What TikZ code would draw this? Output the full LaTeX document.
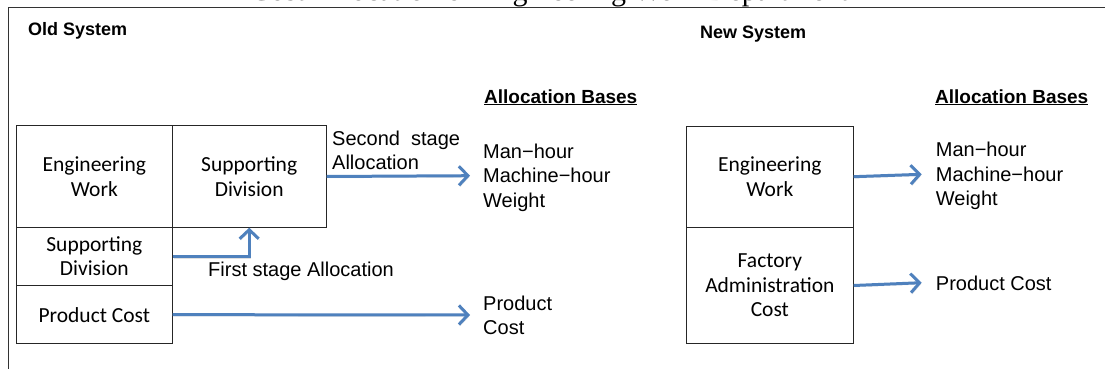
\documentclass[tikz,border=0pt]{standalone}
\usepackage{fontspec}
\setmainfont{Liberation Sans}
\newfontfamily\boxfont{Carlito}
\newfontfamily\titlefont{Liberation Serif}
\usetikzlibrary{arrows.meta}
\definecolor{arrowblue}{RGB}{79,129,189}
\newcommand\mylines[1]{\begin{tabular}[t]{@{}l@{}}#1\end{tabular}}
\begin{document}
\begin{tikzpicture}[x=1pt,y=-1pt,
  boxnode/.style={draw=black!85, line width=1pt, inner sep=0pt, anchor=north west,
    font=\boxfont\fontsize{21.5}{24.5}\selectfont, align=center},
  lbl/.style={inner sep=0pt, anchor=base west, font=\fontsize{20}{24.5}\selectfont},
  heading/.style={inner sep=0pt, anchor=base west, font=\bfseries\fontsize{18}{20}\selectfont},
  bases/.style={inner sep=0pt, anchor=base west, font=\bfseries\fontsize{19}{21}\selectfont},
  bluearrow/.style={draw=arrowblue, line width=3pt,
    -{Straight Barb[length=9pt,width=19pt]},
    preaction={draw=black!12, transform canvas={shift={(1pt,-1.5pt)}}}},
]
\path[use as bounding box, clip] (0,0) rectangle (1105,369);
\fill[white] (0,0) rectangle (1105,369);

% title (cropped at the top)
\node[inner sep=0pt, anchor=base west, font=\titlefont\fontsize{30}{32}\selectfont]
  (title) at (250,1) {Cost Allocation of Engineering Work Department};

% frame
\draw[line width=1pt, black!80] (8,369) -- (8,8) -- (1105,8);

% headings
\node[heading] (old) at (28,36) {Old System};
\node[heading] (new) at (700,39) {New System};
\node[bases] (basesL) at (484,103) {\underline{Allocation Bases}};
\node[bases] (basesR) at (935,103) {\underline{Allocation Bases}};

% old system boxes
\node[boxnode, minimum width=155.7pt, minimum height=101.4pt] (ew) at (16,125.3) {Engineering\\Work};
\node[boxnode, minimum width=154pt, minimum height=101.4pt] (sdU) at (171.7,125.3) {Supporting\\Division};
\node[boxnode, minimum width=155.7pt, minimum height=58.3pt] (sdL) at (16,226.7) {Supporting\\Division};
\node[boxnode, minimum width=155.7pt, minimum height=58.3pt] (pc) at (16,285) {Product Cost};

% old system labels
\node[lbl] (second) at (332,145) {\mylines{Second\ \ stage\\Allocation}};
\node[lbl] (first) at (208,276) {First stage Allocation};
\node[lbl] (baseL1) at (483,158.3) {\mylines{Man−hour\\Machine−hour\\Weight}};
\node[lbl] (baseL2) at (483,310) {\mylines{Product\\Cost}};

\coordinate (tipL1) at (470,175.7);
\coordinate (tipL2) at (470,315);

\draw[bluearrow] (sdU.east) -- (tipL1);
\draw[bluearrow] (sdL.east) -| (sdU.south);
\draw[bluearrow] (pc.east) -- (tipL2);

% new system boxes
\node[boxnode, minimum width=166.7pt, minimum height=101pt] (ewN) at (686,125.7) {Engineering\\Work};
\node[boxnode, minimum width=166.7pt, minimum height=116.6pt] (fac) at (686,226.7) {Factory\\Administration\\Cost};

\node[lbl] (baseR1) at (935.7,156.7) {\mylines{Man−hour\\Machine−hour\\Weight}};
\node[lbl] (baseR2) at (935.7,290.7) {Product Cost};

\coordinate (tipR1) at (921.7,174.3);
\coordinate (tipR2) at (921.7,282.7);

\draw[bluearrow] (ewN.east) -- (tipR1);
\draw[bluearrow] (fac.east) -- (tipR2);
\end{tikzpicture}
\end{document}
